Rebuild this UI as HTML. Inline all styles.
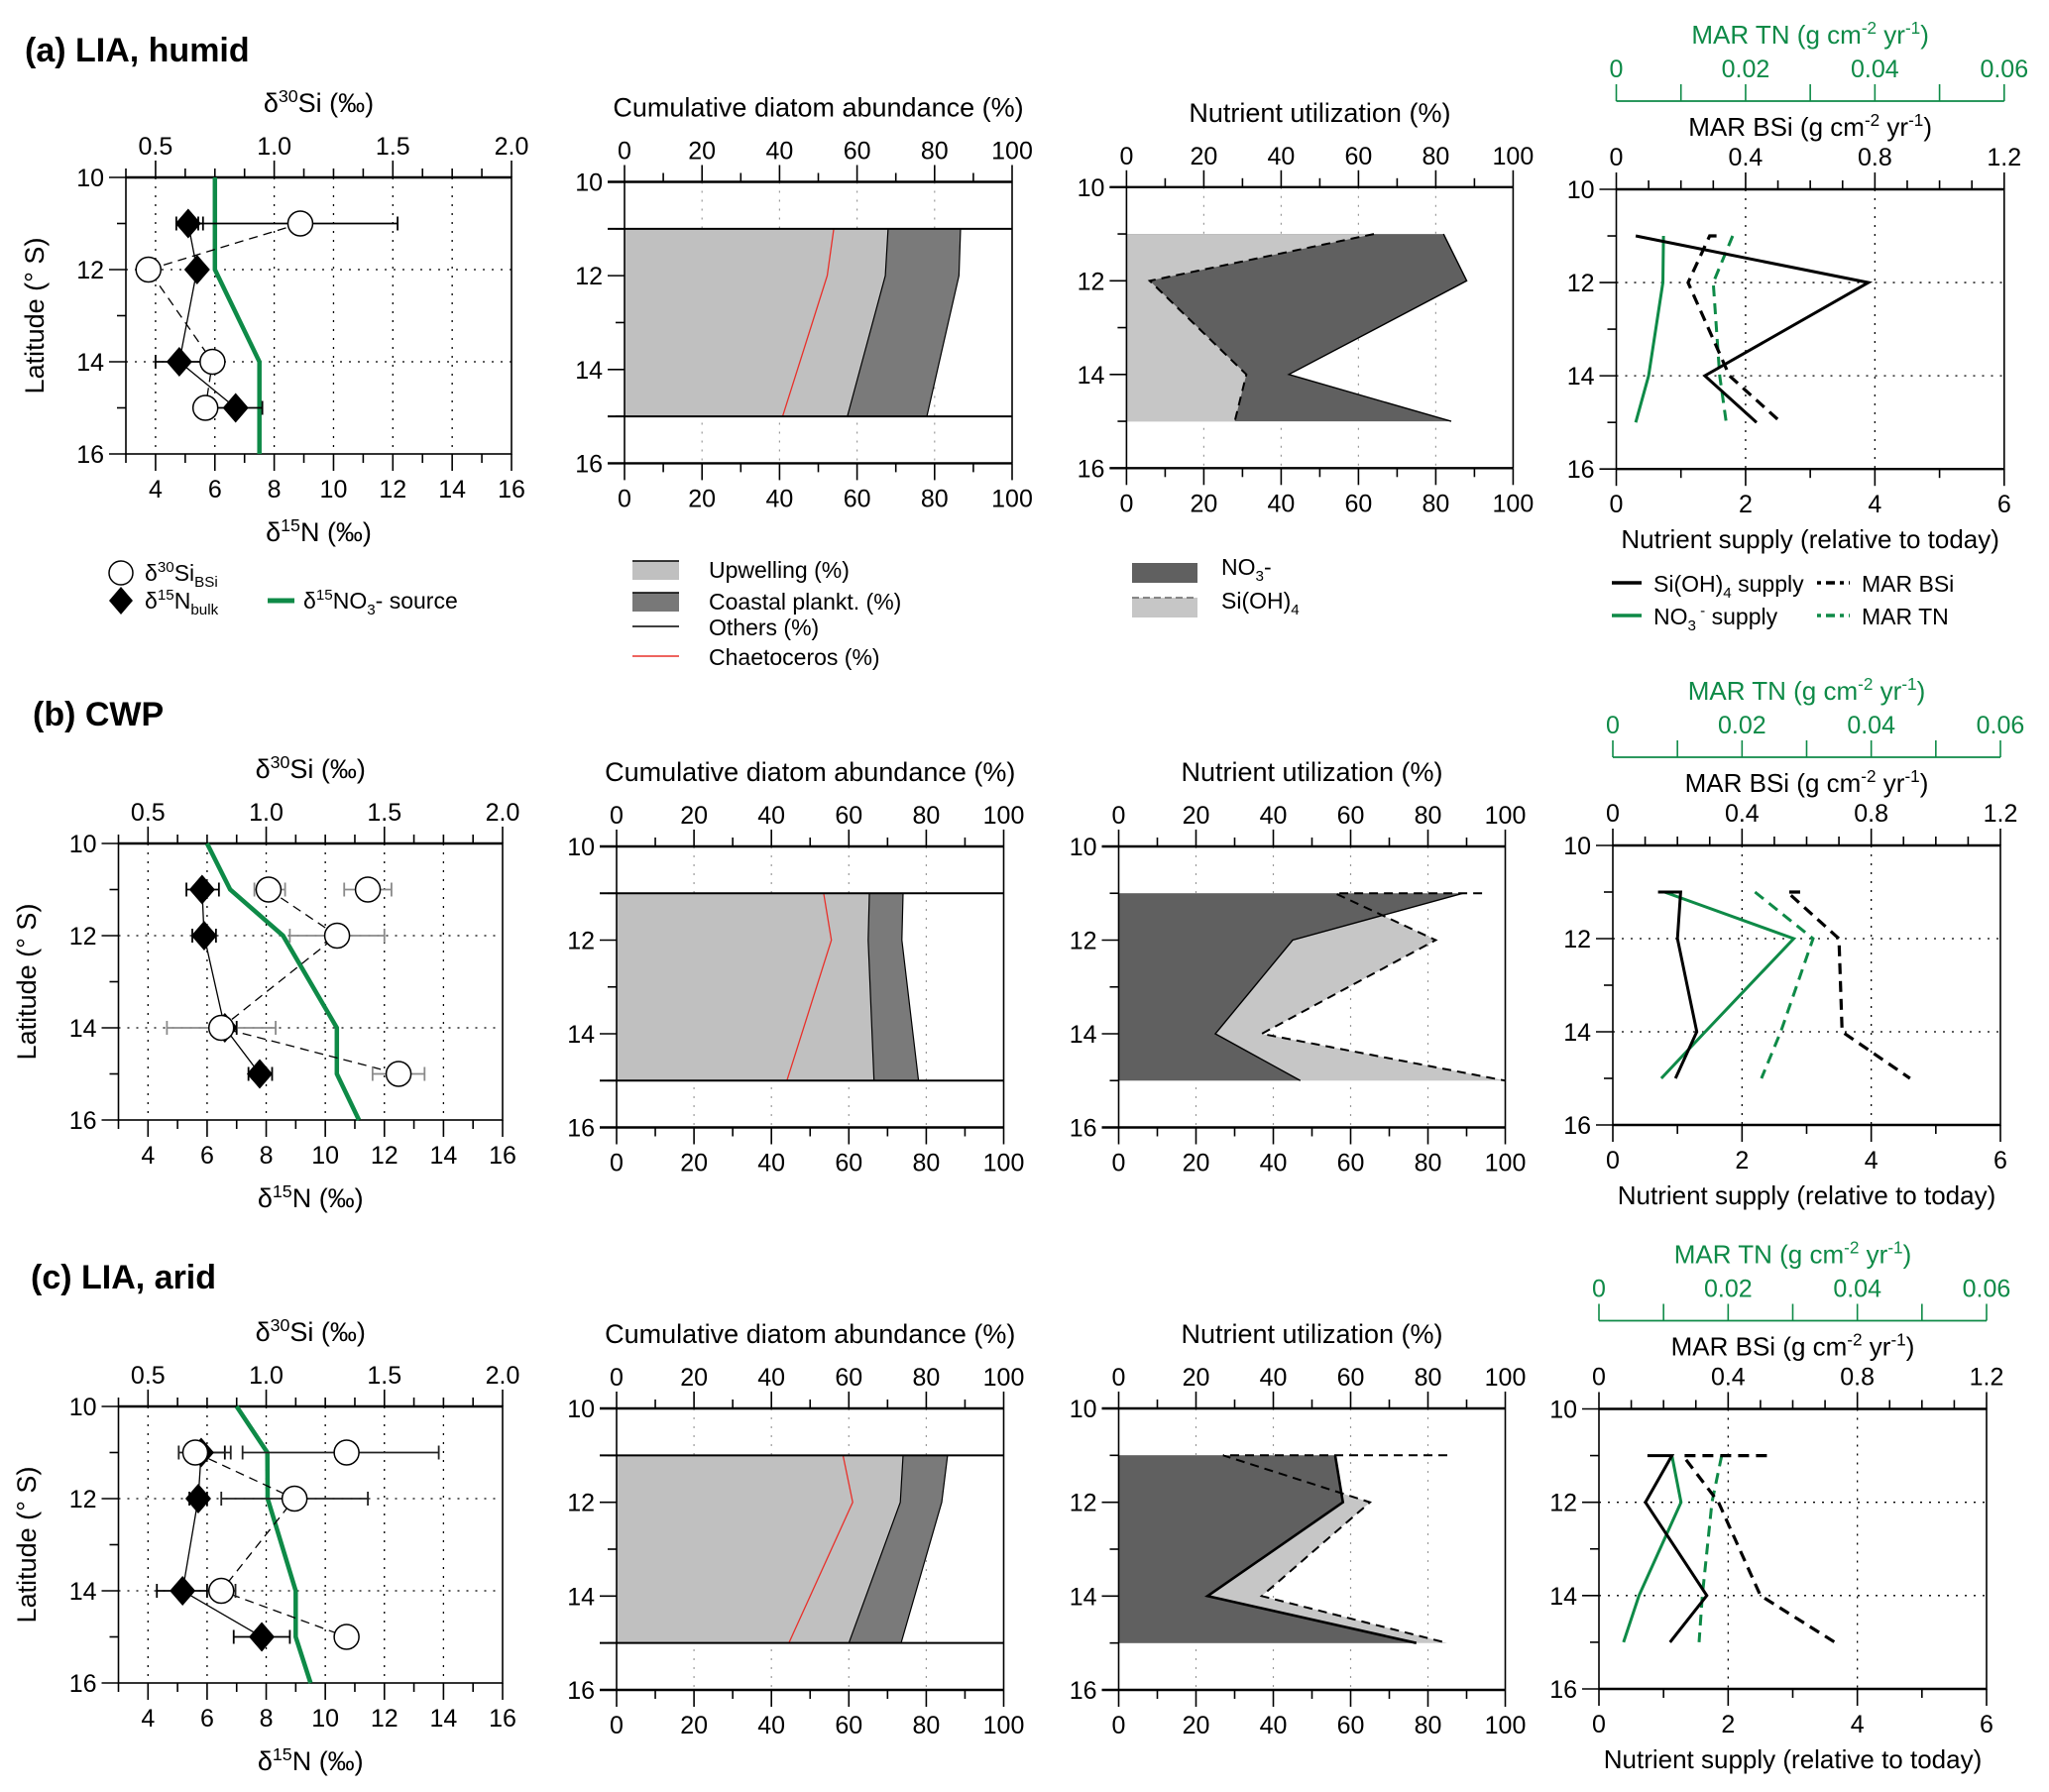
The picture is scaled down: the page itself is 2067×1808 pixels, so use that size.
<!DOCTYPE html>
<html><head><meta charset="utf-8"><style>
html,body{margin:0;padding:0;background:#fff;}
svg{display:block;font-family:"Liberation Sans",Arial,sans-serif;}
</style></head><body>
<svg id="fig" xmlns="http://www.w3.org/2000/svg" width="2067" height="1808" viewBox="0 0 2067 1808">
<rect x="0" y="0" width="2067" height="1808" fill="#fff"/>
</svg>
<script>
// ---------- tick labels ----------
const latTicks=[10,12,14,16];
const n15Ticks=[4,6,8,10,12,14,16];
const si30Ticks=[0.5,1.0,1.5,2.0];
const pctTicks=[0,20,40,60,80,100];
const supTicks=[0,2,4,6];
const bsiTicks=[0,0.4,0.8,1.2];
const tnTicks=[0,0.02,0.04,0.06];
// ---------- panel (a) ----------
const aSiLat=[11,12,14,15], aSiVal=[1.11,0.47,0.74,0.71], aSiLo=[0.68,0.47,0.74,0.71], aSiHi=[1.52,0.47,0.74,0.71], aSiJoin=[1,1,1,1];
const aNLat=[11,12,14,15], aNVal=[5.1,5.4,4.8,6.7], aNLo=[4.7,5.4,4.0,5.8], aNHi=[5.6,5.4,5.9,7.6];
const aSrcLat=[10,12,14,16], aSrcVal=[6,6,7.5,7.5];
const aDiaLat=[11,12,15], aUpw=[68,67.3,57.5], aCoast=[86.7,86.3,78], aChaet=[54,52.3,40.8];
const aNo3Lat=[11,12,14,15], aNo3=[82,88,42,84], aSiULat=[11,12,14,15], aSiU=[64,6,31,28];
const aSiSupLat=[11,12,14,15], aSiSup=[0.3,3.9,1.37,2.17];
const aNo3SupLat=[11,12,14,15], aNo3Sup=[0.73,0.72,0.5,0.3];
const aBsiLat=[11,11,12,14,15], aBsi=[0.31,0.289,0.222,0.35,0.51];
const aTnLat=[11,12,14,15], aTn=[0.018,0.015,0.016,0.017];
// ---------- panel (b) ----------
const bSiLat=[11,11,12,14,15], bSiVal=[1.01,1.43,1.30,0.81,1.56], bSiLo=[0.95,1.33,1.10,0.58,1.45], bSiHi=[1.08,1.53,1.50,1.04,1.67], bSiJoin=[1,0,1,1,1];
const bNLat=[11,12,14,15], bNVal=[5.83,5.9,6.6,7.78], bNLo=[5.3,5.5,6.2,7.4], bNHi=[6.4,6.3,7.0,8.2];
const bSrcLat=[10,11,12,14,15,16], bSrcVal=[6.0,6.78,8.57,10.39,10.39,11.14];
const bDiaLat=[11,12,15], bUpw=[65.3,65,66.5], bCoast=[74,73.7,78], bChaet=[53.5,55.5,44];
const bNo3Lat=[11,12,14,15], bNo3=[89,45,25,47], bSiULat=[11,11,12,14,15], bSiU=[94,56,82,37,100];
const bSiSupLat=[11,11,12,14,15], bSiSup=[0.7,1.05,1.0,1.3,0.97];
const bNo3SupLat=[11,12,14,15], bNo3Sup=[0.8,2.8,1.43,0.75];
const bBsiLat=[11,11,12,14,15], bBsi=[0.58,0.54,0.70,0.71,0.92];
const bTnLat=[11,12,14,15], bTn=[0.022,0.031,0.026,0.023];
// ---------- panel (c) ----------
const cSiLat=[11,11,12,14,15], cSiVal=[0.70,1.34,1.12,0.81,1.34], cSiLo=[0.63,0.90,0.81,0.78,1.31], cSiHi=[0.85,1.73,1.43,0.87,1.38], cSiJoin=[1,0,1,1,1];
const cNLat=[11,12,14,15], cNVal=[5.8,5.7,5.17,7.85], cNLo=[5.5,5.4,4.3,6.9], cNHi=[6.6,6.0,6.0,8.8];
const cSrcLat=[10,11,12,14,15,16], cSrcVal=[7.0,8.04,8.05,9.0,9.0,9.5];
const cDiaLat=[11,12,15], cUpw=[74,73.3,60], cCoast=[85.5,84,73.5], cChaet=[58.5,61,44.5];
const cNo3Lat=[11,12,14,15], cNo3=[56,58,23,77], cSiULat=[11,11,12,14,15], cSiU=[85,27,65,37,85];
const cSiSupLat=[11,11,12,14,15], cSiSup=[0.75,1.13,0.72,1.67,1.1];
const cNo3SupLat=[11,12,14,15], cNo3Sup=[1.13,1.27,0.62,0.38];
const cBsiLat=[11,11,12,14,15], cBsi=[0.52,0.26,0.37,0.50,0.73];
const cTnLat=[11,12,14,15], cTn=[0.019,0.0175,0.016,0.0155];

const svg=document.getElementById('fig');
const NS='http://www.w3.org/2000/svg';
const GREEN='#0e8a47';
function mk(t,a,p){const e=document.createElementNS(NS,t);for(const k in a)e.setAttribute(k,a[k]);(p||svg).appendChild(e);return e;}
function tag(e,n){
  
  
  return e;}
function sc(d0,d1,r0,r1){return v=>r0+(v-d0)/(d1-d0)*(r1-r0);}
function ln(p,x1,y1,x2,y2,st,w,name,dash){const e=mk('line',{x1:x1,y1:y1,x2:x2,y2:y2,stroke:st,'stroke-width':w},p);if(dash)e.setAttribute('stroke-dasharray',dash);tag(e,name);return e;}
function txt(p,x,y,s,size,anchor,fill,name){const e=mk('text',{x:x,y:y,'font-size':size,'text-anchor':anchor,fill:fill||'#000'},p);e.textContent=s;tag(e,name);return e;}
function rich(p,x,y,parts,size,anchor,fill,name,rot){
  const t=mk('text',{x:x,y:y,'font-size':size,'text-anchor':anchor,fill:fill||'#000'},p);
  tag(t,name);
  if(rot)t.setAttribute('transform','rotate(-90 '+x+' '+y+')');
  parts.forEach(q=>{const s=mk('tspan',{},t);s.textContent=q[0];
    if(q[1]==='sup'){s.setAttribute('baseline-shift',size*0.38);s.setAttribute('font-size',size*0.66);}
    else if(q[1]==='sub'){s.setAttribute('baseline-shift',-size*0.24);s.setAttribute('font-size',size*0.66);}
    tag(s,name+'-part');});
  return t;}
function poly(p,pts,attrs,name){const e=mk('polyline',Object.assign({points:pts.map(q=>q[0].toFixed(1)+','+q[1].toFixed(1)).join(' '),fill:'none'},attrs),p);tag(e,name);return e;}
function polygon(p,pts,fill,name){const e=mk('polygon',{points:pts.map(q=>q[0].toFixed(1)+','+q[1].toFixed(1)).join(' '),fill:fill,stroke:'none'},p);tag(e,name);return e;}
function fmt(v){return String(v);}

function leftAxis(g,b,Y){
  for(let l=10;l<=16;l++){const L=l%2===0?17:9;ln(g,b.x0-L,Y(l),b.x0,Y(l),'#000',1.6,'lat-tick');}
  latTicks.forEach(l=>txt(g,b.x0-22,Y(l)+9,fmt(l),25,'end','#000','lat-tick-label'));
}

function panel1(key,b,err,d){
  const g=mk('g',{});tag(g,key+'-isotope-panel');
  const X=sc(3,16,b.x0,b.x1),Y=sc(10,16,b.y0,b.y1),XS=v=>X(4+(v-0.5)*8);
  for(let v=4;v<=14;v+=2)ln(g,X(v),b.y0,X(v),b.y1,'#000',1.3,'grid-v','2,7');
  [12,14].forEach(l=>ln(g,b.x0,Y(l),b.x1,Y(l),'#000',1.3,'grid-h','2,7'));
  tag(mk('rect',{x:b.x0,y:b.y0,width:b.x1-b.x0,height:b.y1-b.y0,fill:'none',stroke:'#000','stroke-width':1.6},g),'plot-frame');
  ln(g,b.x0,b.y0,b.x1,b.y0,'#000',2.6,'top-frame');
  leftAxis(g,b,Y);
  for(let v=3;v<=16;v++){const L=v%2===0?17:9;ln(g,X(v),b.y1,X(v),b.y1+L,'#000',1.6,'n15-tick');}
  n15Ticks.forEach(v=>txt(g,X(v),b.y1+44,fmt(v),25,'middle','#000','n15-tick-label'));
  for(let k=0;k<=13;k++){const s=0.375+k*0.125;const L=(k%4===1)?17:9;ln(g,XS(s),b.y0-L,XS(s),b.y0,'#000',1.6,'si30-tick');}
  si30Ticks.forEach(v=>txt(g,XS(v),b.y0-23,v.toFixed(1),25,'middle','#000','si30-tick-label'));
  rich(g,(b.x0+b.x1)/2,b.y0-66,[['δ',''],['30','sup'],['Si (‰)','']],27,'middle','#000','si30-axis-title');
  rich(g,(b.x0+b.x1)/2,b.y1+88,[['δ',''],['15','sup'],['N  (‰)','']],27,'middle','#000','n15-axis-title');
  rich(g,b.xl,(b.y0+b.y1)/2,[['Latitude (° S)','']],27,'middle','#000','latitude-axis-title',true);
  // source line
  poly(g,d.srcLat.map((l,i)=>[X(d.srcVal[i]),Y(l)]),{stroke:GREEN,'stroke-width':4.5},'no3-source-line');
  // connecting lines
  poly(g,d.nLat.map((l,i)=>[X(d.nVal[i]),Y(l)]),{stroke:'#000','stroke-width':1.3},'n15-line');
  const sp=[];d.siLat.forEach((l,i)=>{if(d.siJoin[i])sp.push([XS(d.siVal[i]),Y(l)]);});
  poly(g,sp,{stroke:'#000','stroke-width':1.3,'stroke-dasharray':'9,6'},'si30-line');
  // error bars
  function eb(lo,hi,l,col,name){if(hi-lo<1e-6)return;const y=Y(l);ln(g,lo,y,hi,y,col,1.8,name);ln(g,lo,y-7,lo,y+7,col,1.8,name+'-cap');ln(g,hi,y-7,hi,y+7,col,1.8,name+'-cap');}
  d.nLat.forEach((l,i)=>eb(X(d.nLo[i]),X(d.nHi[i]),l,'#000','n15-errorbar'));
  d.siLat.forEach((l,i)=>eb(XS(d.siLo[i]),XS(d.siHi[i]),l,err,'si30-errorbar'));
  d.nLat.forEach((l,i)=>{const x=X(d.nVal[i]),y=Y(l);const e=mk('polygon',{points:`${x},${y-15} ${x+13},${y} ${x},${y+15} ${x-13},${y}`,fill:'#000'},g);tag(e,'n15-point');});
  d.siLat.forEach((l,i)=>{const e=mk('circle',{cx:XS(d.siVal[i]),cy:Y(l),r:12.5,fill:'#fff',stroke:'#000','stroke-width':1.5},g);tag(e,'si30-point');});
}

function pctFrame(g,b,X,Y){
  for(let v=20;v<=80;v+=20)ln(g,X(v),b.y0,X(v),b.y1,'#999',1.2,'grid-v','2,7');
}
function pctAxes(g,b,X,Y){
  ln(g,b.x0,b.y0,b.x0,b.y1,'#000',1.6,'left-axis');
  ln(g,b.x1,b.y0,b.x1,b.y1,'#000',1.6,'right-axis');
  ln(g,b.x0-17,b.y0,b.x1,b.y0,'#000',2.4,'top-axis');
  ln(g,b.x0-17,b.y1,b.x1,b.y1,'#000',2.4,'bottom-axis');
  leftAxis(g,b,Y);
  for(let v=0;v<=100;v+=10){const L=v%20===0?17:9;ln(g,X(v),b.y0-L,X(v),b.y0,'#000',1.6,'top-tick');ln(g,X(v),b.y1,X(v),b.y1+L,'#000',1.6,'bottom-tick');}
  pctTicks.forEach(v=>{txt(g,X(v),b.y0-23,fmt(v),25,'middle','#000','top-tick-label');txt(g,X(v),b.y1+44,fmt(v),25,'middle','#000','bottom-tick-label');});
}

function panel2(key,b,d){
  const g=mk('g',{});tag(g,key+'-diatom-panel');
  const X=sc(0,100,b.x0,b.x1),Y=sc(10,16,b.y0,b.y1);
  pctFrame(g,b,X,Y);
  const L=d.lat,top=Y(L[0]),bot=Y(L[L.length-1]);
  polygon(g,[[X(0),top]].concat(L.map((l,i)=>[X(d.coast[i]),Y(l)])).concat([[X(0),bot]]),'#7a7a7a','coastal-area');
  polygon(g,[[X(0),top]].concat(L.map((l,i)=>[X(d.upw[i]),Y(l)])).concat([[X(0),bot]]),'#c0c0c0','upwelling-area');
  poly(g,L.map((l,i)=>[X(d.upw[i]),Y(l)]),{stroke:'#000','stroke-width':1.2},'upwelling-line');
  poly(g,L.map((l,i)=>[X(d.coast[i]),Y(l)]),{stroke:'#000','stroke-width':1.2},'coastal-line');
  poly(g,L.map((l,i)=>[X(d.chaet[i]),Y(l)]),{stroke:'#e8302a','stroke-width':1.3},'chaetoceros-line');
  ln(g,b.x0-17,top,b.x1,top,'#000',2,'data-top-line');
  ln(g,b.x0-17,bot,b.x1,bot,'#000',2,'data-bottom-line');
  pctAxes(g,b,X,Y);
  txt(g,(b.x0+b.x1)/2,b.y0-66,'Cumulative diatom abundance (%)',27,'middle','#000','diatom-axis-title');
}

function panel3(key,b,d,siOnTop,no3w){
  const g=mk('g',{});tag(g,key+'-utilization-panel');
  const X=sc(0,100,b.x0,b.x1),Y=sc(10,16,b.y0,b.y1);
  pctFrame(g,b,X,Y);
  const nTop=Y(d.nLat[0]),nBot=Y(d.nLat[d.nLat.length-1]);
  const sTop=Y(d.sLat[0]),sBot=Y(d.sLat[d.sLat.length-1]);
  const dark=()=>polygon(g,[[X(0),nTop]].concat(d.nLat.map((l,i)=>[X(d.no3[i]),Y(l)])).concat([[X(0),nBot]]),'#606060','no3-area');
  const light=()=>polygon(g,[[X(0),sTop]].concat(d.sLat.map((l,i)=>[X(d.si[i]),Y(l)])).concat([[X(0),sBot]]),'#c6c6c6','sioh4-area');
  if(siOnTop){dark();light();}else{light();dark();}
  poly(g,d.nLat.map((l,i)=>[X(d.no3[i]),Y(l)]),{stroke:'#000','stroke-width':no3w},'no3-line');
  poly(g,d.sLat.map((l,i)=>[X(d.si[i]),Y(l)]),{stroke:'#000','stroke-width':2,'stroke-dasharray':'9,6'},'sioh4-line');
  pctAxes(g,b,X,Y);
  txt(g,(b.x0+b.x1)/2,b.y0-66,'Nutrient utilization  (%)',27,'middle','#000','utilization-axis-title');
}

function panel4(key,b,d){
  const g=mk('g',{});tag(g,key+'-supply-panel');
  const X=sc(0,6,b.x0,b.x1),XB=sc(0,1.2,b.x0,b.x1),XT=sc(0,0.06,b.x0,b.x1),Y=sc(10,16,b.y0,b.y1);
  [2,4].forEach(v=>ln(g,X(v),b.y0,X(v),b.y1,'#000',1.3,'grid-v','2,7'));
  [12,14].forEach(l=>ln(g,b.x0,Y(l),b.x1,Y(l),'#000',1.3,'grid-h','2,7'));
  tag(mk('rect',{x:b.x0,y:b.y0,width:b.x1-b.x0,height:b.y1-b.y0,fill:'none',stroke:'#000','stroke-width':1.6},g),'plot-frame');
  ln(g,b.x0,b.y0,b.x1,b.y0,'#000',2.4,'top-frame');ln(g,b.x0,b.y1,b.x1,b.y1,'#000',2.4,'bottom-frame');
  leftAxis(g,b,Y);
  for(let v=0;v<=6;v++){const L=v%2===0?17:9;ln(g,X(v),b.y1,X(v),b.y1+L,'#000',1.6,'supply-tick');}
  supTicks.forEach(v=>txt(g,X(v),b.y1+44,fmt(v),25,'middle','#000','supply-tick-label'));
  for(let k=0;k<=12;k++){const L=k%4===0?17:9;ln(g,XB(k*0.1),b.y0-L,XB(k*0.1),b.y0,'#000',1.6,'bsi-tick');}
  bsiTicks.forEach(v=>txt(g,XB(v),b.y0-24,v===0?'0':String(v),25,'middle','#000','bsi-tick-label'));
  const ty=b.y0-89;
  ln(g,b.x0,ty,b.x1,ty,GREEN,1.8,'tn-axis');
  for(let k=0;k<=6;k++)ln(g,XT(k*0.01),ty-17,XT(k*0.01),ty,GREEN,1.6,'tn-tick');
  tnTicks.forEach(v=>txt(g,XT(v),ty-24,String(v),25,'middle',GREEN,'tn-tick-label'));
  const cx=(b.x0+b.x1)/2;
  rich(g,cx,b.y0-147,[['MAR TN (g cm',''],['-2','sup'],[' yr',''],['-1','sup'],[')','']],26,'middle',GREEN,'tn-axis-title');
  rich(g,cx,b.y0-54,[['MAR BSi (g cm',''],['-2','sup'],[' yr',''],['-1','sup'],[')','']],26,'middle','#000','bsi-axis-title');
  txt(g,cx,b.y1+80,'Nutrient supply (relative to today)',26,'middle','#000','supply-axis-title');
  poly(g,d.tnLat.map((l,i)=>[XT(d.tn[i]),Y(l)]),{stroke:GREEN,'stroke-width':3,'stroke-dasharray':'11,7'},'mar-tn-line');
  poly(g,d.bsiLat.map((l,i)=>[XB(d.bsi[i]),Y(l)]),{stroke:'#000','stroke-width':3.2,'stroke-dasharray':'11,7'},'mar-bsi-line');
  poly(g,d.no3Lat.map((l,i)=>[X(d.no3[i]),Y(l)]),{stroke:GREEN,'stroke-width':3},'no3-supply-line');
  poly(g,d.siLat.map((l,i)=>[X(d.si[i]),Y(l)]),{stroke:'#000','stroke-width':3},'sioh4-supply-line');
}

// ---------- rows ----------
const rg=svg;
function rowTitle(x,y,s,n){const t=txt(rg,x,y,s,34,'start','#000',n);t.setAttribute('font-weight','bold');}
rowTitle(25,62,'(a) LIA, humid','row-a-title');
rowTitle(33,732,'(b) CWP','row-b-title');
rowTitle(31,1300,'(c) LIA, arid','row-c-title');

panel1('a',{x0:127,x1:516,y0:179,y1:458,xl:44},'#000',{siLat:aSiLat,siVal:aSiVal,siLo:aSiLo,siHi:aSiHi,siJoin:aSiJoin,nLat:aNLat,nVal:aNVal,nLo:aNLo,nHi:aNHi,srcLat:aSrcLat,srcVal:aSrcVal});
panel1('b',{x0:119.5,x1:507,y0:851,y1:1130,xl:36},'#8a8a8a',{siLat:bSiLat,siVal:bSiVal,siLo:bSiLo,siHi:bSiHi,siJoin:bSiJoin,nLat:bNLat,nVal:bNVal,nLo:bNLo,nHi:bNHi,srcLat:bSrcLat,srcVal:bSrcVal});
panel1('c',{x0:119.5,x1:507,y0:1419,y1:1698,xl:36},'#222',{siLat:cSiLat,siVal:cSiVal,siLo:cSiLo,siHi:cSiHi,siJoin:cSiJoin,nLat:cNLat,nVal:cNVal,nLo:cNLo,nHi:cNHi,srcLat:cSrcLat,srcVal:cSrcVal});

panel2('a',{x0:630,x1:1021,y0:183.5,y1:467.4},{lat:aDiaLat,upw:aUpw,coast:aCoast,chaet:aChaet});
panel2('b',{x0:622,x1:1012.5,y0:854,y1:1137.5},{lat:bDiaLat,upw:bUpw,coast:bCoast,chaet:bChaet});
panel2('c',{x0:622,x1:1012.5,y0:1421,y1:1705},{lat:cDiaLat,upw:cUpw,coast:cCoast,chaet:cChaet});

panel3('a',{x0:1136.4,x1:1526.4,y0:188.8,y1:472.3},{nLat:aNo3Lat,no3:aNo3,sLat:aSiULat,si:aSiU},true,1.4);
panel3('b',{x0:1128.5,x1:1518.5,y0:854,y1:1137.5},{nLat:bNo3Lat,no3:bNo3,sLat:bSiULat,si:bSiU},false,1.4);
panel3('c',{x0:1128.5,x1:1518.5,y0:1421,y1:1705},{nLat:cNo3Lat,no3:cNo3,sLat:cSiULat,si:cSiU},false,2.6);

panel4('a',{x0:1630.5,x1:2021.8,y0:191,y1:473.2},{siLat:aSiSupLat,si:aSiSup,no3Lat:aNo3SupLat,no3:aNo3Sup,bsiLat:aBsiLat,bsi:aBsi,tnLat:aTnLat,tn:aTn});
panel4('b',{x0:1627,x1:2018,y0:853,y1:1135},{siLat:bSiSupLat,si:bSiSup,no3Lat:bNo3SupLat,no3:bNo3Sup,bsiLat:bBsiLat,bsi:bBsi,tnLat:bTnLat,tn:bTn});
panel4('c',{x0:1613,x1:2004,y0:1421.5,y1:1704},{siLat:cSiSupLat,si:cSiSup,no3Lat:cNo3SupLat,no3:cNo3Sup,bsiLat:cBsiLat,bsi:cBsi,tnLat:cTnLat,tn:cTn});

// ---------- legends (row a) ----------
const lg=mk('g',{});tag(lg,'legends');
const lc=mk('circle',{cx:122,cy:578,r:12,fill:'#fff',stroke:'#000','stroke-width':1.5},lg);tag(lc,'legend-si30-marker');
rich(lg,146,586,[['δ',''],['30','sup'],['Si',''],['BSi','sub']],23,'start','#000','legend-si30-label');
const ld=mk('polygon',{points:'122,592 134,606 122,620 110,606',fill:'#000'},lg);tag(ld,'legend-n15-marker');
rich(lg,146,614,[['δ',''],['15','sup'],['N',''],['bulk','sub']],23,'start','#000','legend-n15-label');
ln(lg,270,606,297,606,GREEN,5,'legend-source-line');
rich(lg,306,614,[['δ',''],['15','sup'],['NO',''],['3','sub'],['- source','']],23,'start','#000','legend-source-label');
// diatom legend
const s1=mk('rect',{x:638,y:566,width:47,height:19,fill:'#c0c0c0'},lg);tag(s1,'legend-upwelling-swatch');
ln(lg,638,566,685,566,'#000',1.5,'legend-upwelling-edge');
txt(lg,715,583,'Upwelling (%)',23,'start','#000','legend-upwelling-label');
const s2=mk('rect',{x:638,y:598,width:47,height:19,fill:'#787878'},lg);tag(s2,'legend-coastal-swatch');
ln(lg,638,598,685,598,'#000',1.5,'legend-coastal-edge');
txt(lg,715,615,'Coastal plankt. (%)',23,'start','#000','legend-coastal-label');
ln(lg,638,632,685,632,'#000',1.5,'legend-others-line');
txt(lg,715,641,'Others (%)',23,'start','#000','legend-others-label');
ln(lg,638,662,685,662,'#e8302a',1.5,'legend-chaetoceros-line');
txt(lg,715,671,'Chaetoceros (%)',23,'start','#000','legend-chaetoceros-label');
// utilization legend
const s3=mk('rect',{x:1142,y:568,width:66,height:20,fill:'#606060'},lg);tag(s3,'legend-no3-swatch');
rich(lg,1232,580,[['NO',''],['3','sub'],['-','']],23,'start','#000','legend-no3-label');
const s4=mk('rect',{x:1142,y:603,width:66,height:20,fill:'#c6c6c6'},lg);tag(s4,'legend-sioh4-swatch');
ln(lg,1142,603,1208,603,'#666',1.5,'legend-sioh4-edge','7,4');
rich(lg,1232,614,[['Si(OH)',''],['4','sub']],23,'start','#000','legend-sioh4-label');
// supply legend
ln(lg,1626,588,1656,588,'#000',3.5,'legend-sioh4-supply-line');
rich(lg,1668,597,[['Si(OH)',''],['4','sub'],[' supply','']],23,'start','#000','legend-sioh4-supply-label');
ln(lg,1833,588,1866,588,'#000',3.5,'legend-mar-bsi-line','4,5,9,5');
txt(lg,1878,597,'MAR BSi',23,'start','#000','legend-mar-bsi-label');
ln(lg,1626,621,1656,621,GREEN,3.5,'legend-no3-supply-line');
rich(lg,1668,630,[['NO',''],['3','sub'],[' -','sup'],[' supply','']],23,'start','#000','legend-no3-supply-label');
ln(lg,1833,621,1866,621,GREEN,3.5,'legend-mar-tn-line','4,5,9,5');
txt(lg,1878,630,'MAR TN',23,'start','#000','legend-mar-tn-label');
</script>
</body></html>
